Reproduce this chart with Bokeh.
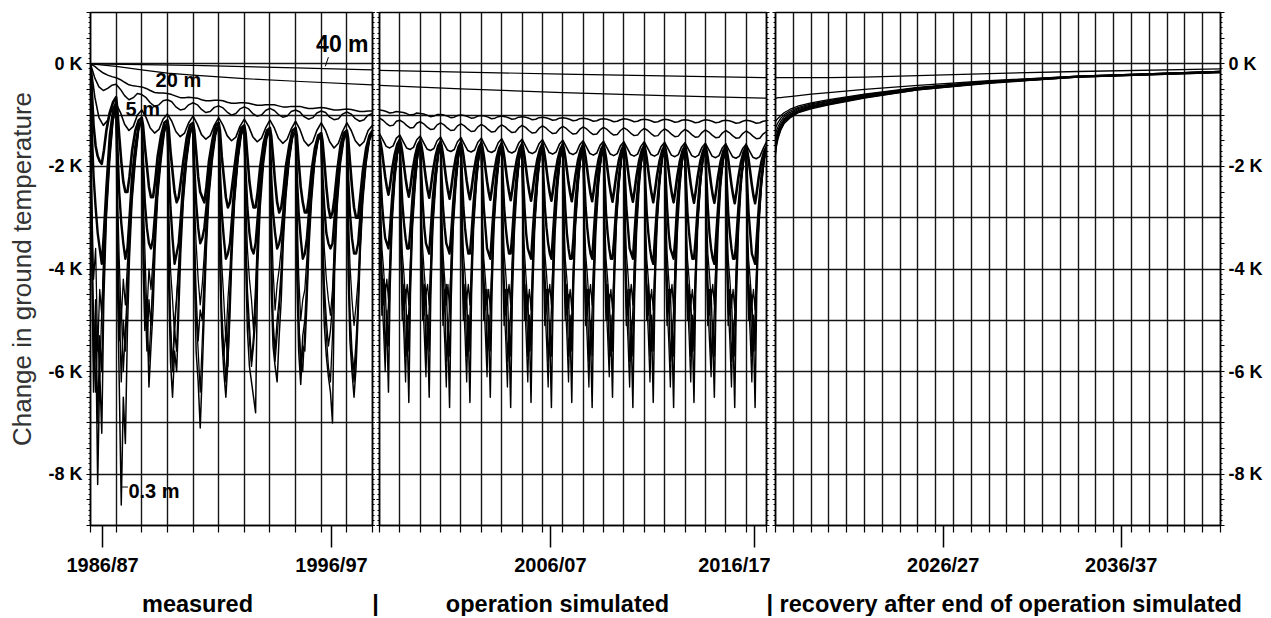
from bokeh.plotting import figure
from bokeh.models import (Range1d, FixedTicker, LinearAxis, Label, Arrow,
                          CustomJSTickFormatter)
from bokeh.layouts import row, column
from bokeh.embed import file_html
from bokeh.resources import INLINE

FONT = "Liberation Sans"

# ---------------- axes / labels ----------------
P1_START, P1_END = 1986, 1997
P2_START, P2_END = 1998, 2017
P3_START, P3_END = 2017, 2042

P1_TICKS = [1986.47, 1995.4]
P1_LABELS = ["1986/87", "1996/97"]
P2_TICKS = [2006.39, 2016.41]
P2_LABELS = ["2006/07", "2016/17"]
P3_TICKS = [2026.42, 2036.42]
P3_LABELS = ["2026/27", "2036/37"]

Y_LABEL = "Change in ground temperature"
SECTION_LABELS = ["measured", "|", "operation simulated",
                  "| recovery after end of operation simulated"]
DEPTH_LABELS = ["40 m", "20 m", "5 m", "0.3 m"]

# sample fractions within one heating season
F_W = [0.0, 0.17, 0.33, 0.5, 0.67, 0.83]
F_S = [0.0, 0.05, 0.12, 0.2, 0.28, 0.36, 0.44, 0.52, 0.62, 0.75, 0.88]

# ---------------- deep probes ----------------
D40_P1_T = [1986, 1990, 1994, 1997]
D40_P1 = [0.0, -0.03, -0.08, -0.12]
D40_P2_T = [1998, 2007, 2017]
D40_P2 = [-0.13, -0.20, -0.27]
D20_P1_T = [1986, 1987, 1988, 1989, 1990, 1992, 1994, 1997]
D20_P1 = [0.0, -0.05, -0.12, -0.18, -0.22, -0.29, -0.34, -0.41]
D20_P2_T = [1998, 2002, 2007, 2012, 2017]
D20_P2 = [-0.42, -0.49, -0.56, -0.62, -0.67]

# ---------------- measured period (panel 1) ----------------
W1_P1 = [
    [0.00, -0.05, -0.12, -0.18, -0.22, -0.25],
    [-0.27, -0.31, -0.36, -0.41, -0.43, -0.44],
    [-0.45, -0.48, -0.52, -0.56, -0.57, -0.57],
    [-0.58, -0.60, -0.63, -0.66, -0.66, -0.65],
    [-0.66, -0.67, -0.70, -0.72, -0.72, -0.71],
    [-0.71, -0.72, -0.75, -0.77, -0.77, -0.76],
    [-0.76, -0.77, -0.79, -0.81, -0.81, -0.80],
    [-0.80, -0.80, -0.82, -0.84, -0.84, -0.83],
    [-0.83, -0.83, -0.85, -0.87, -0.87, -0.86],
    [-0.85, -0.86, -0.88, -0.90, -0.90, -0.89],
    [-0.88, -0.89, -0.91, -0.93, -0.93, -0.92]]
W1_P1_END = -0.92
W2_P1 = [
    [0.00, -0.28, -0.45, -0.52, -0.48, -0.42],
    [-0.40, -0.50, -0.62, -0.70, -0.66, -0.58],
    [-0.60, -0.66, -0.76, -0.83, -0.80, -0.72],
    [-0.70, -0.74, -0.84, -0.90, -0.88, -0.80],
    [-0.76, -0.80, -0.89, -0.95, -0.93, -0.85],
    [-0.82, -0.86, -0.94, -1.00, -0.97, -0.88],
    [-0.84, -0.88, -0.97, -1.02, -1.00, -0.91],
    [-0.87, -0.91, -0.99, -1.04, -1.02, -0.93],
    [-0.90, -0.94, -1.03, -1.08, -1.05, -0.96],
    [-0.92, -0.95, -1.04, -1.09, -1.07, -0.98],
    [-0.94, -0.98, -1.07, -1.12, -1.09, -1.00]]
W2_P1_END = -0.97
W3_P1 = [
    [0.00, -0.65, -1.05, -1.20, -1.10, -0.90],
    [-0.78, -0.95, -1.18, -1.30, -1.22, -1.00],
    [-0.90, -1.05, -1.25, -1.35, -1.28, -1.08],
    [-0.98, -1.12, -1.32, -1.42, -1.35, -1.15],
    [-1.02, -1.18, -1.38, -1.47, -1.40, -1.20],
    [-1.05, -1.20, -1.40, -1.50, -1.43, -1.22],
    [-1.08, -1.22, -1.42, -1.52, -1.45, -1.25],
    [-1.10, -1.25, -1.45, -1.55, -1.47, -1.27],
    [-1.12, -1.28, -1.50, -1.60, -1.52, -1.30],
    [-1.15, -1.30, -1.52, -1.64, -1.55, -1.32],
    [-1.15, -1.30, -1.50, -1.60, -1.52, -1.30]]
W3_P1_END = -1.20
S1_P1 = [
    [0.00, -0.50, -1.20, -1.60, -1.80, -1.90, -1.95, -1.70, -1.30, -0.95, -0.75],
    [-0.65, -0.90, -1.40, -1.90, -2.30, -2.50, -2.50, -2.20, -1.70, -1.30, -1.10],
    [-1.05, -1.20, -1.60, -2.00, -2.40, -2.60, -2.60, -2.30, -1.80, -1.40, -1.15],
    [-1.10, -1.25, -1.70, -2.10, -2.50, -2.70, -2.60, -2.30, -1.90, -1.45, -1.20],
    [-1.15, -1.30, -1.70, -2.20, -2.50, -2.60, -2.70, -2.40, -1.90, -1.50, -1.20],
    [-1.15, -1.30, -1.80, -2.20, -2.60, -2.80, -2.70, -2.40, -2.00, -1.50, -1.25],
    [-1.20, -1.35, -1.80, -2.30, -2.60, -2.80, -2.80, -2.50, -2.00, -1.55, -1.30],
    [-1.25, -1.40, -1.80, -2.30, -2.70, -2.90, -2.80, -2.50, -2.00, -1.60, -1.30],
    [-1.25, -1.40, -1.90, -2.40, -2.70, -2.90, -2.90, -2.60, -2.10, -1.65, -1.40],
    [-1.35, -1.50, -1.90, -2.40, -2.80, -3.00, -2.90, -2.60, -2.10, -1.60, -1.35],
    [-1.30, -1.45, -1.90, -2.40, -2.80, -3.00, -3.00, -2.60, -2.10, -1.65, -1.40]]
S1_P1_END = -1.30
S2_P1 = [
    [0.00, -1.3, -2.2, -2.8, -3.3, -3.6, -3.9, -3.3, -2.4, -1.4, -0.90],
    [-0.75, -1.6, -2.5, -3.1, -3.5, -3.8, -3.6, -3.0, -2.2, -1.6, -1.20],
    [-1.10, -1.9, -2.7, -3.2, -3.5, -3.6, -3.4, -2.9, -2.2, -1.6, -1.25],
    [-1.15, -2.0, -2.8, -3.4, -3.9, -3.7, -3.5, -3.0, -2.3, -1.7, -1.30],
    [-1.20, -2.0, -2.7, -3.2, -3.5, -3.4, -3.2, -2.8, -2.2, -1.6, -1.30],
    [-1.20, -2.1, -2.9, -3.4, -3.8, -3.7, -3.5, -3.0, -2.3, -1.7, -1.30],
    [-1.25, -2.1, -2.8, -3.3, -3.6, -3.7, -3.5, -3.0, -2.3, -1.7, -1.35],
    [-1.30, -2.2, -2.9, -3.3, -3.6, -3.5, -3.3, -2.9, -2.2, -1.7, -1.40],
    [-1.30, -2.2, -2.9, -3.4, -3.8, -3.7, -3.4, -2.9, -2.3, -1.75, -1.45],
    [-1.40, -2.2, -2.8, -3.3, -3.5, -3.6, -3.5, -3.0, -2.3, -1.7, -1.40],
    [-1.35, -2.2, -2.9, -3.4, -3.7, -3.7, -3.5, -3.0, -2.3, -1.75, -1.45]]
S2_P1_END = -1.35
S3_P1 = [
    [0.00, -3.4, -5.8, -4.6, -7.0, -5.3, -6.0, -4.2, -2.9, -1.8, -1.10],
    [-0.85, -3.0, -4.6, -6.2, -5.0, -5.6, -4.5, -3.5, -2.6, -1.8, -1.25],
    [-1.10, -3.1, -4.4, -5.6, -4.6, -5.1, -4.2, -3.3, -2.5, -1.8, -1.30],
    [-1.15, -3.4, -5.0, -6.0, -5.2, -5.6, -4.4, -3.4, -2.6, -1.85, -1.35],
    [-1.20, -3.2, -4.5, -5.4, -4.8, -5.0, -4.1, -3.2, -2.5, -1.8, -1.35],
    [-1.20, -3.3, -4.8, -5.6, -6.2, -5.2, -4.4, -3.4, -2.6, -1.85, -1.35],
    [-1.25, -3.1, -4.4, -5.1, -5.8, -5.3, -4.6, -3.5, -2.6, -1.85, -1.40],
    [-1.30, -3.4, -5.0, -5.6, -5.0, -4.6, -4.0, -3.2, -2.5, -1.85, -1.40],
    [-1.30, -3.3, -4.9, -6.0, -5.3, -5.0, -4.2, -3.3, -2.5, -1.85, -1.45],
    [-1.40, -3.1, -4.3, -5.0, -5.5, -5.2, -4.7, -3.6, -2.6, -1.85, -1.45],
    [-1.35, -3.3, -4.8, -5.6, -6.0, -5.4, -4.6, -3.5, -2.6, -1.85, -1.45]]
S3_P1_END = -1.35
S4_P1 = [
    [0.00, -3.8, -6.4, -5.0, -8.2, -6.0, -7.2, -4.6, -3.0, -1.9, -1.10],
    [-0.90, -4.2, -6.2, -8.6, -6.5, -7.4, -5.2, -3.8, -2.7, -1.9, -1.30],
    [-1.10, -3.9, -5.2, -4.6, -6.3, -5.5, -4.8, -3.6, -2.6, -1.9, -1.35],
    [-1.15, -4.3, -5.8, -6.5, -5.6, -6.0, -4.9, -3.7, -2.7, -1.9, -1.40],
    [-1.20, -4.0, -5.6, -6.2, -7.1, -6.0, -4.8, -3.6, -2.6, -1.9, -1.40],
    [-1.20, -4.1, -5.3, -6.0, -6.5, -5.8, -4.9, -3.7, -2.7, -1.9, -1.40],
    [-1.25, -3.8, -5.2, -5.9, -6.2, -6.5, -6.8, -4.0, -2.8, -1.95, -1.45],
    [-1.30, -4.4, -5.5, -5.9, -6.2, -5.3, -4.6, -3.5, -2.6, -1.9, -1.45],
    [-1.30, -4.2, -5.6, -6.25, -5.5, -5.6, -4.7, -3.6, -2.7, -1.9, -1.50],
    [-1.40, -3.9, -5.1, -5.7, -6.1, -6.4, -7.0, -4.1, -2.8, -1.95, -1.50],
    [-1.35, -4.1, -5.4, -6.0, -6.5, -5.9, -4.9, -3.7, -2.7, -1.95, -1.50]]
S4_P1_END = -1.35
S5_P1 = [
    [0.00, -2.6, -4.2, -3.6, -5.6, -4.4, -4.9, -3.6, -2.6, -1.6, -1.00],
    [-0.80, -2.4, -3.8, -5.0, -4.2, -4.7, -3.9, -3.2, -2.4, -1.7, -1.20],
    [-1.10, -2.5, -3.6, -4.9, -4.0, -4.4, -3.8, -3.1, -2.4, -1.7, -1.25],
    [-1.15, -2.8, -4.0, -4.6, -5.3, -4.5, -3.9, -3.2, -2.5, -1.8, -1.30],
    [-1.20, -2.6, -3.5, -4.2, -4.7, -4.3, -3.7, -3.0, -2.4, -1.7, -1.30],
    [-1.20, -2.7, -3.9, -4.6, -5.4, -4.6, -4.0, -3.2, -2.5, -1.8, -1.30],
    [-1.25, -2.6, -3.6, -4.2, -4.6, -5.2, -4.3, -3.3, -2.5, -1.8, -1.35],
    [-1.30, -2.8, -4.0, -4.8, -4.3, -4.0, -3.6, -3.0, -2.4, -1.8, -1.40],
    [-1.30, -2.7, -4.1, -5.0, -4.6, -4.4, -3.8, -3.1, -2.4, -1.8, -1.45],
    [-1.40, -2.6, -3.6, -4.2, -4.6, -4.9, -4.4, -3.4, -2.5, -1.8, -1.40],
    [-1.35, -2.7, -3.9, -4.6, -5.1, -4.7, -4.2, -3.3, -2.5, -1.8, -1.45]]
S5_P1_END = -1.35
S6_P1 = [
    [0.00, -3.0, -5.0, -6.4, -5.2, -6.1, -4.8, -3.9, -2.7, -1.7, -1.05],
    [-0.82, -3.4, -5.4, -4.7, -6.0, -5.2, -4.4, -3.4, -2.5, -1.8, -1.25],
    [-1.10, -3.3, -4.6, -5.2, -5.8, -5.0, -4.2, -3.3, -2.5, -1.8, -1.30],
    [-1.15, -3.6, -5.2, -5.9, -5.0, -4.6, -4.0, -3.3, -2.5, -1.8, -1.35],
    [-1.20, -3.4, -4.9, -5.6, -6.4, -5.4, -4.4, -3.4, -2.5, -1.8, -1.35],
    [-1.20, -3.5, -5.1, -5.7, -5.2, -5.9, -4.6, -3.5, -2.6, -1.85, -1.35],
    [-1.25, -3.3, -4.7, -5.4, -5.9, -5.5, -5.0, -3.7, -2.6, -1.85, -1.40],
    [-1.30, -3.6, -5.2, -5.8, -5.3, -4.8, -4.2, -3.3, -2.5, -1.85, -1.40],
    [-1.30, -3.5, -5.0, -5.7, -6.0, -5.2, -4.5, -3.4, -2.6, -1.85, -1.45],
    [-1.40, -3.3, -4.6, -5.3, -5.9, -6.2, -5.3, -3.8, -2.7, -1.9, -1.45],
    [-1.35, -3.5, -5.0, -5.8, -6.2, -5.6, -4.7, -3.6, -2.6, -1.9, -1.45]]
S6_P1_END = -1.35

# ---------------- simulated operation (panel 2) ----------------
W1_P2 = [
    [-0.90, -0.91, -0.93, -0.96, -0.95, -0.93],
    [-0.94, -0.95, -0.97, -1.00, -0.99, -0.96],
    [-0.97, -0.98, -1.00, -1.03, -1.02, -0.99],
    [-0.99, -1.00, -1.02, -1.05, -1.04, -1.01],
    [-1.00, -1.01, -1.03, -1.06, -1.05, -1.02],
    [-1.01, -1.02, -1.04, -1.07, -1.06, -1.03],
    [-1.02, -1.03, -1.05, -1.08, -1.07, -1.04],
    [-1.03, -1.04, -1.06, -1.09, -1.08, -1.05],
    [-1.04, -1.05, -1.07, -1.10, -1.09, -1.06],
    [-1.05, -1.06, -1.08, -1.11, -1.10, -1.07],
    [-1.06, -1.07, -1.09, -1.12, -1.11, -1.08],
    [-1.07, -1.08, -1.10, -1.13, -1.12, -1.09],
    [-1.07, -1.08, -1.10, -1.13, -1.12, -1.09],
    [-1.08, -1.09, -1.11, -1.14, -1.13, -1.10],
    [-1.08, -1.09, -1.11, -1.14, -1.13, -1.10],
    [-1.09, -1.10, -1.12, -1.15, -1.14, -1.11],
    [-1.09, -1.10, -1.12, -1.15, -1.14, -1.11],
    [-1.10, -1.11, -1.13, -1.16, -1.15, -1.12],
    [-1.10, -1.11, -1.13, -1.16, -1.15, -1.12]]
W1_P2_END = -1.11
W2_P2 = [
    [-1.06, -1.10, -1.16, -1.21, -1.20, -1.12],
    [-1.10, -1.14, -1.20, -1.25, -1.24, -1.16],
    [-1.13, -1.17, -1.23, -1.28, -1.27, -1.19],
    [-1.15, -1.19, -1.25, -1.30, -1.29, -1.21],
    [-1.17, -1.21, -1.27, -1.32, -1.31, -1.23],
    [-1.18, -1.22, -1.28, -1.33, -1.32, -1.24],
    [-1.19, -1.23, -1.29, -1.34, -1.33, -1.25],
    [-1.20, -1.24, -1.30, -1.35, -1.34, -1.26],
    [-1.21, -1.25, -1.31, -1.36, -1.35, -1.27],
    [-1.22, -1.26, -1.32, -1.37, -1.36, -1.28],
    [-1.23, -1.27, -1.33, -1.38, -1.37, -1.29],
    [-1.24, -1.28, -1.34, -1.39, -1.38, -1.30],
    [-1.25, -1.29, -1.35, -1.40, -1.39, -1.31],
    [-1.26, -1.30, -1.36, -1.41, -1.40, -1.32],
    [-1.27, -1.31, -1.37, -1.42, -1.41, -1.33],
    [-1.28, -1.32, -1.38, -1.43, -1.42, -1.34],
    [-1.29, -1.33, -1.39, -1.44, -1.43, -1.35],
    [-1.30, -1.34, -1.40, -1.45, -1.44, -1.36],
    [-1.31, -1.35, -1.41, -1.46, -1.45, -1.37]]
W2_P2_END = -1.32
W3_P2 = [
    [-1.36, -1.49, -1.61, -1.64, -1.60, -1.45],
    [-1.39, -1.52, -1.64, -1.67, -1.63, -1.48],
    [-1.41, -1.54, -1.66, -1.69, -1.65, -1.50],
    [-1.43, -1.56, -1.68, -1.71, -1.67, -1.52],
    [-1.44, -1.57, -1.69, -1.72, -1.68, -1.53],
    [-1.45, -1.58, -1.70, -1.73, -1.69, -1.54],
    [-1.46, -1.59, -1.71, -1.74, -1.70, -1.55],
    [-1.47, -1.60, -1.72, -1.75, -1.71, -1.56],
    [-1.48, -1.61, -1.73, -1.76, -1.72, -1.57],
    [-1.49, -1.62, -1.74, -1.77, -1.73, -1.58],
    [-1.50, -1.63, -1.75, -1.78, -1.74, -1.59],
    [-1.51, -1.64, -1.76, -1.79, -1.75, -1.60],
    [-1.52, -1.65, -1.77, -1.80, -1.76, -1.61],
    [-1.52, -1.65, -1.77, -1.80, -1.76, -1.61],
    [-1.53, -1.66, -1.78, -1.81, -1.77, -1.62],
    [-1.54, -1.67, -1.79, -1.82, -1.78, -1.63],
    [-1.55, -1.68, -1.80, -1.83, -1.79, -1.64],
    [-1.56, -1.69, -1.81, -1.84, -1.80, -1.65],
    [-1.57, -1.70, -1.82, -1.85, -1.81, -1.66]]
W3_P2_END = -1.52
S1_P2 = [
    [-1.45, -1.53, -1.70, -1.95, -2.20, -2.40, -2.55, -2.36, -2.05, -1.76, -1.56],
    [-1.48, -1.56, -1.73, -1.98, -2.23, -2.44, -2.59, -2.39, -2.08, -1.79, -1.58],
    [-1.50, -1.58, -1.75, -2.00, -2.25, -2.46, -2.61, -2.40, -2.10, -1.80, -1.60],
    [-1.52, -1.60, -1.77, -2.02, -2.27, -2.47, -2.63, -2.42, -2.12, -1.82, -1.62],
    [-1.53, -1.61, -1.78, -2.03, -2.28, -2.49, -2.64, -2.43, -2.13, -1.83, -1.63],
    [-1.54, -1.62, -1.79, -2.04, -2.29, -2.50, -2.65, -2.44, -2.14, -1.84, -1.64],
    [-1.55, -1.63, -1.80, -2.05, -2.30, -2.50, -2.66, -2.45, -2.15, -1.85, -1.65],
    [-1.56, -1.64, -1.81, -2.06, -2.31, -2.51, -2.67, -2.46, -2.16, -1.86, -1.66],
    [-1.56, -1.64, -1.81, -2.06, -2.31, -2.52, -2.67, -2.46, -2.16, -1.86, -1.66],
    [-1.57, -1.65, -1.82, -2.07, -2.32, -2.52, -2.68, -2.47, -2.17, -1.87, -1.67],
    [-1.57, -1.65, -1.82, -2.07, -2.32, -2.53, -2.68, -2.47, -2.17, -1.87, -1.67],
    [-1.58, -1.66, -1.83, -2.08, -2.33, -2.53, -2.69, -2.48, -2.18, -1.88, -1.68],
    [-1.58, -1.66, -1.83, -2.08, -2.33, -2.54, -2.69, -2.48, -2.18, -1.88, -1.68],
    [-1.59, -1.67, -1.84, -2.09, -2.34, -2.54, -2.70, -2.49, -2.19, -1.89, -1.69],
    [-1.59, -1.67, -1.84, -2.09, -2.34, -2.55, -2.70, -2.49, -2.19, -1.89, -1.69],
    [-1.60, -1.68, -1.85, -2.10, -2.35, -2.55, -2.71, -2.50, -2.20, -1.90, -1.70],
    [-1.60, -1.68, -1.85, -2.10, -2.35, -2.56, -2.71, -2.50, -2.20, -1.90, -1.70],
    [-1.61, -1.69, -1.86, -2.11, -2.36, -2.56, -2.72, -2.51, -2.21, -1.91, -1.71],
    [-1.61, -1.69, -1.86, -2.11, -2.36, -2.57, -2.72, -2.51, -2.21, -1.91, -1.71]]
S1_P2_END = -1.62
S2_P2 = [
    [-1.50, -2.1, -2.7, -3.1, -3.4, -3.5, -3.6, -3.2, -2.6, -2.0, -1.70],
    [-1.52, -2.1, -2.7, -3.1, -3.4, -3.6, -3.6, -3.2, -2.6, -2.0, -1.72],
    [-1.54, -2.1, -2.7, -3.2, -3.5, -3.6, -3.7, -3.2, -2.6, -2.1, -1.74],
    [-1.55, -2.2, -2.8, -3.2, -3.5, -3.6, -3.7, -3.3, -2.7, -2.1, -1.75],
    [-1.56, -2.2, -2.8, -3.2, -3.5, -3.7, -3.7, -3.3, -2.7, -2.1, -1.76],
    [-1.57, -2.2, -2.8, -3.2, -3.6, -3.7, -3.8, -3.3, -2.7, -2.1, -1.77],
    [-1.58, -2.2, -2.8, -3.2, -3.5, -3.7, -3.7, -3.3, -2.7, -2.1, -1.78],
    [-1.59, -2.2, -2.8, -3.3, -3.6, -3.7, -3.8, -3.3, -2.7, -2.1, -1.79],
    [-1.59, -2.2, -2.8, -3.2, -3.5, -3.7, -3.8, -3.3, -2.7, -2.1, -1.79],
    [-1.60, -2.2, -2.8, -3.3, -3.6, -3.8, -3.8, -3.4, -2.7, -2.1, -1.80],
    [-1.60, -2.2, -2.8, -3.2, -3.5, -3.7, -3.8, -3.3, -2.7, -2.1, -1.80],
    [-1.61, -2.2, -2.9, -3.3, -3.6, -3.8, -3.8, -3.4, -2.8, -2.2, -1.81],
    [-1.61, -2.2, -2.8, -3.2, -3.6, -3.7, -3.8, -3.3, -2.7, -2.1, -1.81],
    [-1.62, -2.3, -2.9, -3.3, -3.6, -3.8, -3.9, -3.4, -2.8, -2.2, -1.82],
    [-1.62, -2.2, -2.8, -3.3, -3.6, -3.7, -3.8, -3.4, -2.7, -2.1, -1.82],
    [-1.63, -2.3, -2.9, -3.3, -3.6, -3.8, -3.8, -3.4, -2.8, -2.2, -1.83],
    [-1.63, -2.2, -2.8, -3.3, -3.6, -3.8, -3.9, -3.4, -2.8, -2.1, -1.83],
    [-1.64, -2.3, -2.9, -3.3, -3.6, -3.8, -3.8, -3.4, -2.8, -2.2, -1.84],
    [-1.64, -2.3, -2.9, -3.3, -3.7, -3.8, -3.9, -3.4, -2.8, -2.2, -1.84]]
S2_P2_END = -1.62
S3_P2 = [
    [-1.48, -3.2, -4.0, -4.7, -4.3, -5.3, -4.7, -3.8, -2.9, -2.2, -1.75],
    [-1.50, -3.3, -4.1, -4.8, -4.4, -5.4, -4.8, -3.9, -3.0, -2.3, -1.78],
    [-1.52, -3.3, -4.1, -4.9, -4.4, -5.5, -4.8, -3.9, -3.0, -2.3, -1.80],
    [-1.53, -3.2, -4.0, -4.8, -4.3, -5.4, -4.7, -3.9, -3.0, -2.3, -1.80],
    [-1.54, -3.4, -4.2, -4.9, -4.5, -5.6, -4.9, -4.0, -3.0, -2.3, -1.81],
    [-1.55, -3.3, -4.1, -4.8, -4.4, -5.5, -4.8, -3.9, -3.0, -2.3, -1.82],
    [-1.56, -3.3, -4.2, -4.9, -4.4, -5.5, -4.8, -3.9, -3.0, -2.3, -1.82],
    [-1.57, -3.4, -4.2, -5.0, -4.5, -5.6, -4.9, -4.0, -3.1, -2.3, -1.83],
    [-1.57, -3.3, -4.1, -4.8, -4.4, -5.5, -4.8, -3.9, -3.0, -2.3, -1.83],
    [-1.58, -3.4, -4.2, -4.9, -4.5, -5.6, -4.9, -4.0, -3.1, -2.3, -1.84],
    [-1.58, -3.3, -4.1, -4.9, -4.4, -5.5, -4.8, -3.9, -3.0, -2.3, -1.84],
    [-1.59, -3.4, -4.2, -5.0, -4.5, -5.7, -4.9, -4.0, -3.1, -2.4, -1.85],
    [-1.59, -3.3, -4.2, -4.9, -4.4, -5.5, -4.8, -3.9, -3.0, -2.3, -1.85],
    [-1.60, -3.4, -4.2, -4.9, -4.5, -5.6, -4.9, -4.0, -3.1, -2.3, -1.86],
    [-1.60, -3.3, -4.1, -4.8, -4.4, -5.5, -4.8, -3.9, -3.0, -2.3, -1.86],
    [-1.61, -3.4, -4.2, -5.0, -4.5, -5.6, -4.9, -4.0, -3.1, -2.4, -1.87],
    [-1.61, -3.3, -4.2, -4.9, -4.4, -5.5, -4.8, -3.9, -3.0, -2.3, -1.87],
    [-1.62, -3.4, -4.2, -4.9, -4.5, -5.6, -4.9, -4.0, -3.1, -2.3, -1.88],
    [-1.62, -3.4, -4.2, -5.0, -4.5, -5.6, -4.9, -4.0, -3.1, -2.4, -1.88]]
S3_P2_END = -1.66
S4_P2 = [
    [-1.42, -3.7, -4.9, -4.2, -5.6, -5.1, -6.4, -4.4, -3.1, -2.3, -1.75],
    [-1.44, -3.8, -5.0, -4.3, -5.7, -5.2, -6.6, -4.5, -3.2, -2.4, -1.77],
    [-1.46, -3.8, -5.0, -4.3, -5.7, -5.2, -6.5, -4.5, -3.2, -2.4, -1.78],
    [-1.47, -3.9, -5.1, -4.4, -5.8, -5.3, -6.7, -4.6, -3.2, -2.4, -1.79],
    [-1.48, -3.8, -5.0, -4.3, -5.7, -5.2, -6.6, -4.5, -3.2, -2.4, -1.80],
    [-1.49, -3.8, -5.0, -4.4, -5.7, -5.2, -6.5, -4.5, -3.2, -2.4, -1.80],
    [-1.50, -3.9, -5.1, -4.4, -5.8, -5.3, -6.7, -4.6, -3.3, -2.4, -1.81],
    [-1.51, -3.8, -5.0, -4.3, -5.7, -5.2, -6.6, -4.5, -3.2, -2.4, -1.81],
    [-1.51, -3.9, -5.1, -4.4, -5.8, -5.3, -6.7, -4.6, -3.3, -2.4, -1.82],
    [-1.52, -3.8, -5.0, -4.3, -5.7, -5.2, -6.6, -4.5, -3.2, -2.4, -1.82],
    [-1.52, -3.9, -5.1, -4.4, -5.8, -5.3, -6.7, -4.6, -3.3, -2.4, -1.83],
    [-1.53, -3.8, -5.0, -4.3, -5.7, -5.2, -6.5, -4.5, -3.2, -2.4, -1.83],
    [-1.53, -3.9, -5.1, -4.4, -5.8, -5.3, -6.7, -4.6, -3.3, -2.4, -1.84],
    [-1.54, -3.8, -5.0, -4.3, -5.7, -5.2, -6.6, -4.5, -3.2, -2.4, -1.84],
    [-1.54, -3.9, -5.1, -4.4, -5.8, -5.3, -6.7, -4.6, -3.3, -2.4, -1.85],
    [-1.55, -3.8, -5.0, -4.3, -5.7, -5.2, -6.6, -4.5, -3.2, -2.4, -1.85],
    [-1.55, -3.9, -5.1, -4.4, -5.8, -5.3, -6.5, -4.6, -3.3, -2.4, -1.86],
    [-1.56, -3.9, -5.1, -4.4, -5.8, -5.3, -6.7, -4.6, -3.3, -2.4, -1.86],
    [-1.56, -3.8, -5.0, -4.3, -5.7, -5.2, -6.7, -4.5, -3.2, -2.4, -1.87]]
S4_P2_END = -1.60
S5_P2 = [
    [-1.52, -2.7, -3.6, -4.0, -4.5, -4.2, -4.6, -3.7, -2.8, -2.1, -1.75],
    [-1.54, -2.8, -3.7, -4.1, -4.6, -4.3, -4.7, -3.8, -2.9, -2.2, -1.77],
    [-1.55, -2.8, -3.6, -4.1, -4.5, -4.3, -4.7, -3.8, -2.9, -2.2, -1.78],
    [-1.56, -2.8, -3.7, -4.2, -4.7, -4.3, -4.8, -3.8, -2.9, -2.2, -1.79],
    [-1.57, -2.8, -3.7, -4.1, -4.6, -4.3, -4.7, -3.8, -2.9, -2.2, -1.80],
    [-1.58, -2.9, -3.8, -4.2, -4.7, -4.4, -4.8, -3.9, -2.9, -2.2, -1.80],
    [-1.58, -2.8, -3.7, -4.1, -4.6, -4.3, -4.7, -3.8, -2.9, -2.2, -1.81],
    [-1.59, -2.9, -3.7, -4.2, -4.7, -4.4, -4.8, -3.8, -2.9, -2.2, -1.81],
    [-1.59, -2.8, -3.7, -4.1, -4.6, -4.3, -4.7, -3.8, -2.9, -2.2, -1.82],
    [-1.60, -2.9, -3.8, -4.2, -4.7, -4.4, -4.8, -3.9, -3.0, -2.2, -1.82],
    [-1.60, -2.8, -3.7, -4.1, -4.6, -4.3, -4.7, -3.8, -2.9, -2.2, -1.83],
    [-1.61, -2.9, -3.8, -4.2, -4.7, -4.4, -4.8, -3.9, -3.0, -2.2, -1.83],
    [-1.61, -2.8, -3.7, -4.1, -4.6, -4.3, -4.7, -3.8, -2.9, -2.2, -1.84],
    [-1.62, -2.9, -3.8, -4.2, -4.7, -4.4, -4.8, -3.9, -3.0, -2.2, -1.84],
    [-1.62, -2.8, -3.7, -4.2, -4.6, -4.3, -4.8, -3.8, -2.9, -2.2, -1.85],
    [-1.63, -2.9, -3.8, -4.2, -4.7, -4.4, -4.8, -3.9, -3.0, -2.2, -1.85],
    [-1.63, -2.8, -3.7, -4.1, -4.6, -4.3, -4.7, -3.8, -2.9, -2.2, -1.86],
    [-1.64, -2.9, -3.8, -4.2, -4.7, -4.4, -4.8, -3.9, -3.0, -2.2, -1.86],
    [-1.64, -2.9, -3.8, -4.2, -4.7, -4.4, -4.8, -3.9, -3.0, -2.3, -1.87]]
S5_P2_END = -1.65
S6_P2 = [
    [-1.46, -3.4, -4.5, -5.2, -6.0, -4.8, -5.5, -4.1, -3.0, -2.2, -1.76],
    [-1.48, -3.5, -4.6, -5.3, -6.2, -4.9, -5.6, -4.2, -3.1, -2.3, -1.78],
    [-1.50, -3.5, -4.6, -5.3, -6.1, -4.9, -5.6, -4.2, -3.1, -2.3, -1.79],
    [-1.51, -3.6, -4.7, -5.4, -6.3, -5.0, -5.7, -4.2, -3.1, -2.3, -1.80],
    [-1.52, -3.5, -4.6, -5.3, -6.2, -4.9, -5.6, -4.2, -3.1, -2.3, -1.80],
    [-1.53, -3.5, -4.6, -5.3, -6.1, -4.9, -5.6, -4.2, -3.1, -2.3, -1.81],
    [-1.54, -3.6, -4.7, -5.4, -6.3, -5.0, -5.7, -4.3, -3.1, -2.3, -1.81],
    [-1.55, -3.5, -4.6, -5.3, -6.2, -4.9, -5.6, -4.2, -3.1, -2.3, -1.82],
    [-1.55, -3.6, -4.7, -5.4, -6.3, -5.0, -5.7, -4.3, -3.1, -2.3, -1.82],
    [-1.56, -3.5, -4.6, -5.3, -6.2, -4.9, -5.6, -4.2, -3.1, -2.3, -1.83],
    [-1.56, -3.6, -4.7, -5.4, -6.3, -5.0, -5.7, -4.3, -3.1, -2.3, -1.83],
    [-1.57, -3.5, -4.6, -5.3, -6.1, -4.9, -5.6, -4.2, -3.1, -2.3, -1.84],
    [-1.57, -3.6, -4.7, -5.4, -6.3, -5.0, -5.7, -4.3, -3.1, -2.3, -1.84],
    [-1.58, -3.5, -4.6, -5.3, -6.2, -4.9, -5.6, -4.2, -3.1, -2.3, -1.85],
    [-1.58, -3.6, -4.7, -5.4, -6.3, -5.0, -5.7, -4.3, -3.1, -2.3, -1.85],
    [-1.59, -3.5, -4.6, -5.3, -6.2, -4.9, -5.6, -4.2, -3.1, -2.3, -1.86],
    [-1.59, -3.6, -4.7, -5.4, -6.1, -5.0, -5.7, -4.3, -3.1, -2.3, -1.86],
    [-1.60, -3.6, -4.7, -5.4, -6.3, -5.0, -5.7, -4.3, -3.1, -2.3, -1.87],
    [-1.60, -3.5, -4.6, -5.3, -6.2, -4.9, -5.6, -4.2, -3.1, -2.3, -1.87]]
S6_P2_END = -1.62

# ---------------- recovery (panel 3) ----------------
T3 = [2017.0, 2017.05, 2017.15, 2017.3, 2017.5, 2017.8, 2018.3, 2019, 2020,
      2022, 2025, 2029, 2034, 2042]
REC = {
    "D40": [-0.27, -0.27, -0.27, -0.27, -0.27, -0.27, -0.27, -0.27, -0.27, -0.26, -0.23, -0.19, -0.15, -0.10],
    "D20": [-0.67, -0.67, -0.66, -0.66, -0.65, -0.64, -0.62, -0.59, -0.56, -0.50, -0.42, -0.33, -0.24, -0.15],
    "W1": [-1.12, -1.10, -1.06, -1.01, -0.95, -0.89, -0.82, -0.76, -0.70, -0.59, -0.46, -0.34, -0.24, -0.15],
    "W2": [-1.25, -1.21, -1.14, -1.06, -0.99, -0.92, -0.85, -0.78, -0.72, -0.60, -0.47, -0.35, -0.24, -0.15],
    "W3": [-1.38, -1.31, -1.22, -1.12, -1.03, -0.95, -0.87, -0.80, -0.73, -0.61, -0.47, -0.35, -0.25, -0.15],
    "S1": [-1.50, -1.40, -1.28, -1.17, -1.07, -0.98, -0.89, -0.82, -0.75, -0.62, -0.48, -0.36, -0.25, -0.16],
    "S2": [-1.56, -1.45, -1.32, -1.20, -1.09, -1.00, -0.91, -0.83, -0.76, -0.63, -0.49, -0.36, -0.25, -0.16],
    "S5": [-1.62, -1.50, -1.36, -1.23, -1.11, -1.02, -0.92, -0.84, -0.77, -0.64, -0.49, -0.36, -0.25, -0.16],
    "S3": [-1.67, -1.54, -1.39, -1.25, -1.13, -1.03, -0.93, -0.85, -0.78, -0.65, -0.50, -0.37, -0.26, -0.16],
    "S6": [-1.72, -1.58, -1.42, -1.27, -1.14, -1.04, -0.94, -0.86, -0.79, -0.66, -0.51, -0.37, -0.26, -0.17],
    "S4": [-1.77, -1.62, -1.45, -1.29, -1.16, -1.06, -0.95, -0.88, -0.80, -0.67, -0.51, -0.38, -0.26, -0.17],
}

WIDTH = {"D40": 1.2, "D20": 1.2, "W1": 1.5, "W2": 1.5, "W3": 1.6,
         "S1": 2.6, "S2": 2.4, "S3": 1.4, "S4": 1.5, "S5": 1.3, "S6": 1.3}
REC_WIDTH = 1.3


def seasonal(start, rows, fracs, end_val):
    t, v = [], []
    for k, r in enumerate(rows):
        if len(r) != len(fracs):
            raise ValueError("row length mismatch at season %d" % k)
        for f, val in zip(fracs, r):
            t.append(start + k + f)
            v.append(val)
    t.append(start + len(rows))
    v.append(end_val)
    return t, v


Y_MAJOR = [1.0 - 0.5 * i for i in range(21)]
Y_MINOR = [round(1.0 - 0.1 * i, 1) for i in range(101)]

LABEL_FMT = CustomJSTickFormatter(code="""
    if (Math.abs(tick - Math.round(tick)) < 1e-6 && Math.round(tick) % 2 == 0 && tick <= 0.5)
        return Math.round(tick) + " K";
    return "";
""")


def y_axis(labels):
    ax = LinearAxis(ticker=FixedTicker(ticks=Y_MAJOR, minor_ticks=Y_MINOR),
                    axis_line_color="black", axis_line_width=1.5,
                    major_tick_line_color="black", minor_tick_line_color="black",
                    major_tick_in=0, minor_tick_in=0)
    if labels:
        ax.formatter = LABEL_FMT
        ax.major_tick_out = 4
        ax.minor_tick_out = 2
        ax.major_label_standoff = 4
        ax.major_label_text_font = FONT
        ax.major_label_text_font_style = "bold"
        ax.major_label_text_font_size = "18px"
        ax.major_label_text_color = "black"
    else:
        ax.formatter = CustomJSTickFormatter(code="return '';")
        ax.major_tick_out = 3
        ax.minor_tick_out = 2
        ax.major_label_standoff = 0
        ax.major_label_text_font_size = "0px"
    return ax


def make_fig(width, x0, x1, bl, br, ticks, labels):
    p = figure(width=width, height=580, x_range=Range1d(x0, x1),
               y_range=Range1d(-9, 1), output_backend="svg",
               toolbar_location=None, y_axis_location=None,
               min_border_left=bl, min_border_right=br,
               min_border_top=12, min_border_bottom=55,
               outline_line_color="black", outline_line_width=1.5,
               background_fill_color="white", border_fill_color="white")
    xa = p.xaxis[0]
    xa.ticker = FixedTicker(ticks=ticks, minor_ticks=list(range(x0, x1 + 1)))
    xa.major_label_overrides = {t: l for t, l in zip(ticks, labels)}
    xa.major_tick_out = 22
    xa.major_tick_in = 0
    xa.minor_tick_out = 7
    xa.minor_tick_in = 0
    xa.major_tick_line_width = 1.5
    xa.minor_tick_line_width = 1.2
    xa.axis_line_width = 1.5
    xa.axis_line_color = "black"
    xa.major_tick_line_color = "black"
    xa.minor_tick_line_color = "black"
    xa.major_label_standoff = 6
    xa.major_label_text_font = FONT
    xa.major_label_text_font_style = "bold"
    xa.major_label_text_font_size = "20px"
    xa.major_label_text_color = "black"
    p.xgrid.ticker = FixedTicker(ticks=list(range(x0, x1 + 1)))
    p.ygrid.ticker = FixedTicker(ticks=list(range(-8, 1)))
    p.grid.grid_line_color = "#151515"
    p.grid.grid_line_width = 1.4
    return p


def draw(p, t, v, width):
    p.line(t, v, line_color="black", line_width=width, line_join="round")


def depth_label(p, x, y, text, size):
    p.add_layout(Label(x=x, y=y, text=text, text_baseline="middle",
                       text_font=FONT, text_font_style="bold",
                       text_font_size=size, text_color="black"))


# ---------- panel 1 ----------
p1 = make_fig(375, P1_START, P1_END, 90, 3, P1_TICKS, P1_LABELS)
ax = y_axis(True)
ax.axis_label = Y_LABEL
ax.axis_label_text_font = FONT
ax.axis_label_text_font_style = "normal"
ax.axis_label_text_font_size = "26px"
ax.axis_label_text_color = "#333333"
ax.axis_label_standoff = 8
p1.add_layout(ax, "left")
p1.add_layout(y_axis(False), "right")

draw(p1, D40_P1_T, D40_P1, WIDTH["D40"])
draw(p1, D20_P1_T, D20_P1, WIDTH["D20"])
for key, rows, end in [("W1", W1_P1, W1_P1_END), ("W2", W2_P1, W2_P1_END),
                       ("W3", W3_P1, W3_P1_END)]:
    draw(p1, *seasonal(P1_START, rows, F_W, end), WIDTH[key])
for key, rows, end in [("S5", S5_P1, S5_P1_END), ("S6", S6_P1, S6_P1_END),
                       ("S3", S3_P1, S3_P1_END), ("S4", S4_P1, S4_P1_END),
                       ("S2", S2_P1, S2_P1_END), ("S1", S1_P1, S1_P1_END)]:
    draw(p1, *seasonal(P1_START, rows, F_S, end), WIDTH[key])

depth_label(p1, 1994.8, 0.38, DEPTH_LABELS[0], "23px")
depth_label(p1, 1988.54, -0.32, DEPTH_LABELS[1], "20px")
depth_label(p1, 1987.37, -0.89, DEPTH_LABELS[2], "20px")
depth_label(p1, 1987.48, -8.32, DEPTH_LABELS[3], "20px")
p1.add_layout(Arrow(end=None, x_start=1995.28, y_start=0.13, x_end=1995.16, y_end=-0.05,
                    line_color="black", line_width=1))
p1.add_layout(Arrow(end=None, x_start=1987.23, y_start=-8.25, x_end=1987.46, y_end=-8.25,
                    line_color="black", line_width=1))

# ---------- panel 2 ----------
p2 = make_fig(395, P2_START, P2_END, 4, 4, P2_TICKS, P2_LABELS)
p2.add_layout(y_axis(False), "left")
p2.add_layout(y_axis(False), "right")
draw(p2, D40_P2_T, D40_P2, WIDTH["D40"])
draw(p2, D20_P2_T, D20_P2, WIDTH["D20"])
for key, rows, end in [("W1", W1_P2, W1_P2_END), ("W2", W2_P2, W2_P2_END),
                       ("W3", W3_P2, W3_P2_END)]:
    draw(p2, *seasonal(P2_START, rows, F_W, end), WIDTH[key])
for key, rows, end in [("S5", S5_P2, S5_P2_END), ("S6", S6_P2, S6_P2_END),
                       ("S3", S3_P2, S3_P2_END), ("S4", S4_P2, S4_P2_END),
                       ("S2", S2_P2, S2_P2_END), ("S1", S1_P2, S1_P2_END)]:
    draw(p2, *seasonal(P2_START, rows, F_S, end), WIDTH[key])

# ---------- panel 3 ----------
p3 = make_fig(495, P3_START, P3_END, 5, 45, P3_TICKS, P3_LABELS)
p3.add_layout(y_axis(False), "left")
p3.add_layout(y_axis(True), "right")
for key, vals in REC.items():
    draw(p3, T3, vals, REC_WIDTH)

# ---------- section captions strip ----------
strip = figure(width=1265, height=36, x_range=Range1d(0, 1265), y_range=Range1d(0, 36),
               output_backend="svg", toolbar_location=None,
               x_axis_location=None, y_axis_location=None, min_border=0,
               outline_line_color=None, background_fill_color="white",
               border_fill_color="white")
strip.grid.visible = False
for x, txt, align in [(197, SECTION_LABELS[0], "center"),
                      (375, SECTION_LABELS[1], "center"),
                      (557, SECTION_LABELS[2], "center"),
                      (766, SECTION_LABELS[3], "left")]:
    strip.add_layout(Label(x=x, y=13, text=txt, text_align=align, text_baseline="middle",
                           text_font=FONT, text_font_style="bold",
                           text_font_size="23.5px", text_color="black"))

layout = column(row(p1, p2, p3), strip)
open("out.html", "w").write(file_html(layout, INLINE))
